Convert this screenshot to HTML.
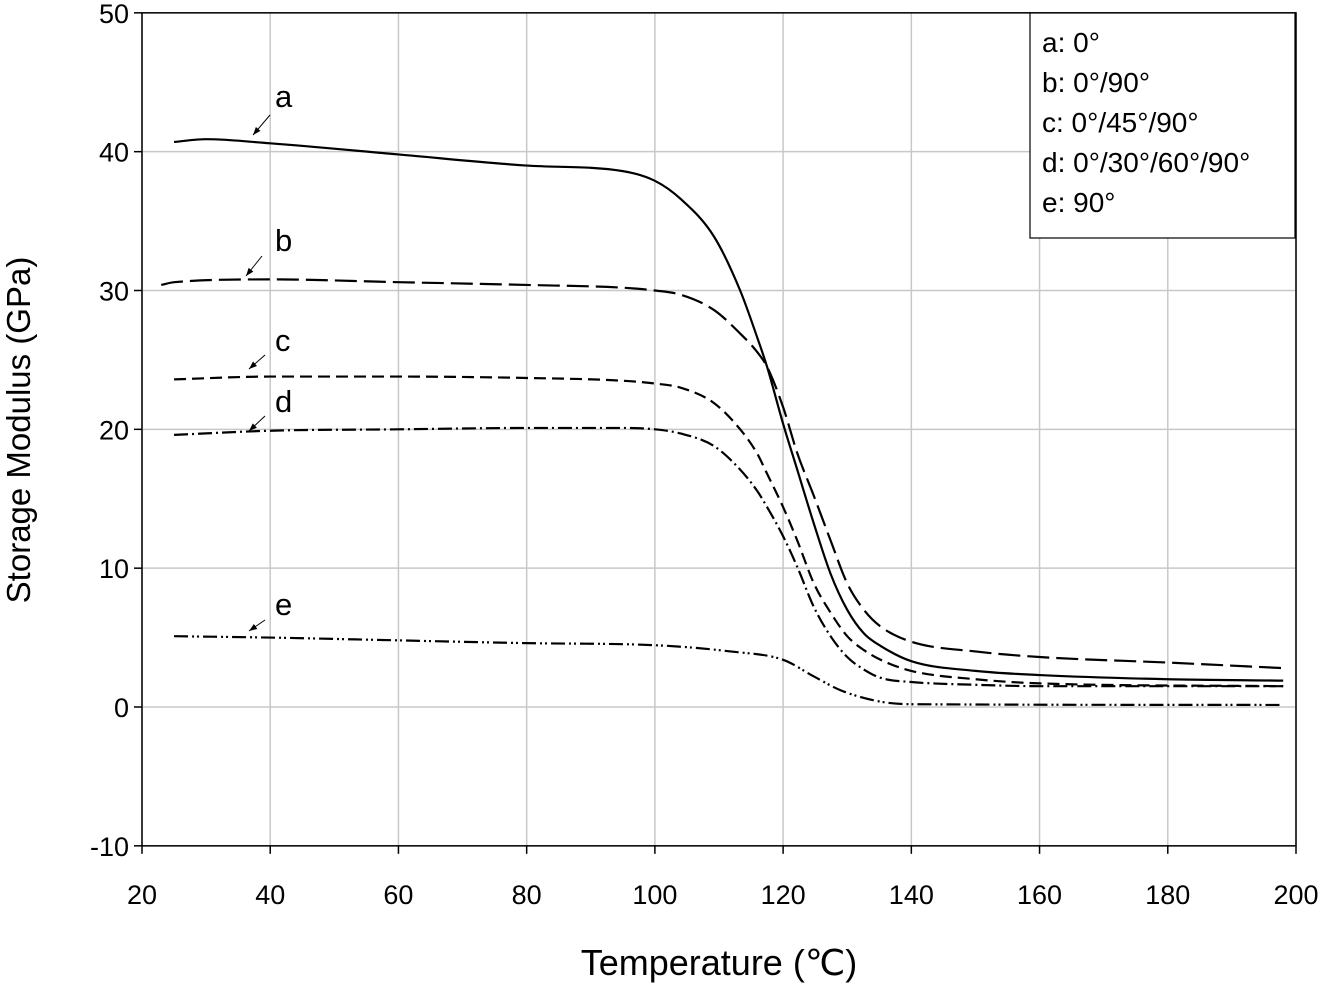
<!DOCTYPE html>
<html><head><meta charset="utf-8"><style>
body{margin:0;background:#fff;}
svg{display:block;font-family:"Liberation Sans",Arial,sans-serif;}
</style></head><body>
<svg id="chart" width="1323" height="984">
<g id="grid"></g>
<g id="axes"></g>
<g id="series"></g>
<g id="labels"></g>
<text x="719" y="975" font-size="36" text-anchor="middle">Temperature (℃)</text>
<text transform="translate(30,430) rotate(-90)" font-size="33" text-anchor="middle">Storage Modulus (GPa)</text>
<g>
<rect x="1030" y="13" width="265" height="225" fill="#fff" stroke="#000" stroke-width="1.2"/>
<text x="1042" y="52" font-size="28">a: 0°</text>
<text x="1042" y="92" font-size="28">b: 0°/90°</text>
<text x="1042" y="132" font-size="28">c: 0°/45°/90°</text>
<text x="1042" y="172" font-size="28">d: 0°/30°/60°/90°</text>
<text x="1042" y="212" font-size="28">e: 90°</text>
</g>
</svg>
<script>
const xTicks=[20,40,60,80,100,120,140,160,180,200];
const yTicks=[-10,0,10,20,30,40,50];
const aT=[25,30,40,60,80,95,100,104,109.2,113.3,115.9,117.5,120,122.2,124.8,127.4,130,132.6,135.2,140,150,160,180,198];
const aV=[40.7,40.9,40.6,39.8,39.0,38.6,37.9,36.6,33.9,30,26.7,24.5,20.4,17.1,13.2,9.6,7.0,5.3,4.4,3.3,2.6,2.3,2.0,1.9];
const bT=[23,25,40,60,80,95,100,104,109.2,113.3,115.9,117.5,120,122.2,124.8,127.4,130,132.6,135.2,140,150,160,180,198];
const bV=[30.4,30.6,30.8,30.6,30.4,30.2,30.0,29.7,28.6,26.9,25.6,24.5,21.6,18.3,15.2,12.0,8.9,7.0,5.8,4.7,4.0,3.6,3.2,2.8];
const cT=[25,40,60,80,95,100,104,109.2,113.3,115.9,117.5,120,122.2,124.8,127.4,130,132.6,135.2,140,150,160,198];
const cV=[23.6,23.8,23.8,23.7,23.5,23.3,23.0,21.9,20.0,18.3,16.8,14.4,12.0,8.9,6.8,5.1,4.1,3.4,2.6,2.0,1.7,1.5];
const dT=[25,40,60,80,95,100,104,109.2,113.3,115.9,117.5,120,122.2,124.8,127.4,130,132.6,135.2,140,150,160,198];
const dV=[19.6,19.9,20.0,20.1,20.1,20.0,19.7,18.8,17.1,15.6,14.4,12.3,10.1,7.2,5.1,3.6,2.7,2.1,1.8,1.6,1.5,1.5];
const eT=[25,40,60,80,100,111.8,120,124.8,129,135,140,198];
const eV=[5.1,5.0,4.8,4.6,4.45,4.0,3.4,2.2,1.2,0.4,0.2,0.15];
const X=t=>142+(t-20)*1154/180;
const Y=v=>707-v*833/60;
const NS="http://www.w3.org/2000/svg";
function mk(p,tag,at){const e=document.createElementNS(NS,tag);for(const k in at)e.setAttribute(k,at[k]);p.appendChild(e);return e;}
const grid=document.getElementById('grid'),axes=document.getElementById('axes');
xTicks.forEach(t=>{
 const l=mk(grid,'line',{x1:X(t),x2:X(t),y1:Y(50),y2:Y(-10),stroke:'#c8c8c8','stroke-width':1.5});
 
 
 const k=mk(axes,'line',{x1:X(t),x2:X(t),y1:Y(-10),y2:Y(-10)+8,stroke:'#000','stroke-width':1.5});
 
 
 const tx=mk(axes,'text',{x:X(t),y:904,'font-size':27,'text-anchor':'middle'});tx.textContent=t;
 
 
});
yTicks.forEach(v=>{
 const l=mk(grid,'line',{x1:X(20),x2:X(200),y1:Y(v),y2:Y(v),stroke:'#c8c8c8','stroke-width':1.5});
 
 
 const k=mk(axes,'line',{x1:X(20)-8,x2:X(20),y1:Y(v),y2:Y(v),stroke:'#000','stroke-width':1.5});
 
 
 const tx=mk(axes,'text',{x:X(20)-13,y:Y(v)+10,'font-size':27,'text-anchor':'end'});tx.textContent=v;
 
 
});
const fr=mk(axes,'rect',{x:X(20),y:Y(50),width:X(200)-X(20),height:Y(-10)-Y(50),fill:'none',stroke:'#000','stroke-width':1.5});


function path(T,V){
 const x=T.map(X),y=V.map(Y),n=x.length;
 const d=[],m=new Array(n);
 for(let i=0;i<n-1;i++)d.push((y[i+1]-y[i])/(x[i+1]-x[i]));
 m[0]=d[0];m[n-1]=d[n-2];
 for(let i=1;i<n-1;i++){m[i]=(d[i-1]*d[i]<=0)?0:(d[i-1]+d[i])/2;}
 for(let i=0;i<n-1;i++){if(d[i]===0){m[i]=0;m[i+1]=0;continue;}const a=m[i]/d[i],b=m[i+1]/d[i],s=a*a+b*b;if(s>9){const t=3/Math.sqrt(s);m[i]=t*a*d[i];m[i+1]=t*b*d[i];}}
 let s=`M${x[0]},${y[0]}`;
 for(let i=0;i<n-1;i++){const h=(x[i+1]-x[i])/3;s+=` C${x[i]+h},${y[i]+m[i]*h} ${x[i+1]-h},${y[i+1]-m[i+1]*h} ${x[i+1]},${y[i+1]}`;}
 return s;}
const ser=document.getElementById('series');
const defs=[[aT,aV,'none','a'],[bT,bV,'22 7','b'],[cT,cV,'12 6','c'],[dT,dV,'14 4 2 4','d'],[eT,eV,'14 4 2 3 2 4','e']];
defs.forEach(s=>{
 const p=mk(ser,'path',{d:path(s[0],s[1]),fill:'none',stroke:'#000','stroke-width':2.2,'stroke-dasharray':s[2]});
 
 
});
const lab=document.getElementById('labels');
const labs=[['a',285,107,270,115,253,135],['b',285,251,262,256,246,276],['c',285,351,265,355,249,369],['d',285,412,265,416,249,431],['e',285,615,265,620,249,631]];
labs.forEach(l=>{
 const t=mk(lab,'text',{x:l[1]-10,y:l[2],'font-size':31});t.textContent=l[0];
 
 
 const a=mk(lab,'line',{x1:l[3],y1:l[4],x2:l[5],y2:l[6],stroke:'#000','stroke-width':1});
 
 
 const dx=l[5]-l[3],dy=l[6]-l[4],n=Math.hypot(dx,dy),ux=dx/n,uy=dy/n;
 const h=mk(lab,'polygon',{points:`${l[5]},${l[6]} ${l[5]-ux*8-uy*3},${l[6]-uy*8+ux*3} ${l[5]-ux*8+uy*3},${l[6]-uy*8-ux*3}`,fill:'#000'});
 
 
});
</script>
</body></html>
